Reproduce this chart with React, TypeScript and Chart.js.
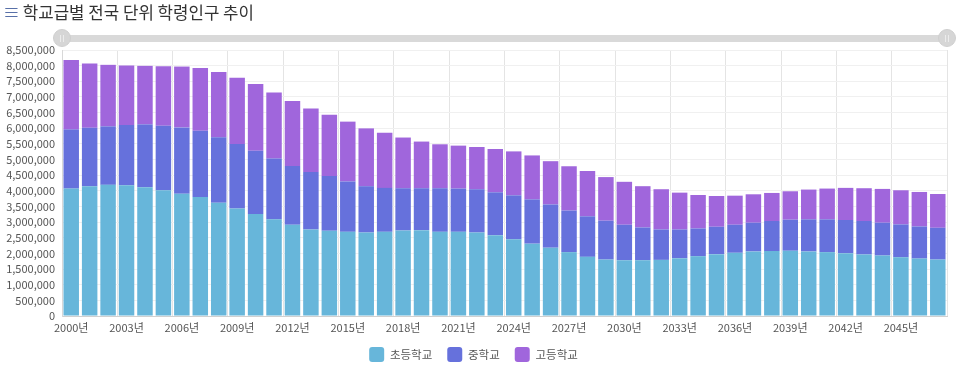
import React, { useEffect, useRef } from "react";
import { Chart, registerables } from "chart.js";

Chart.register(...registerables);

const years = [
  "2000년", "2001년", "2002년", "2003년", "2004년", "2005년", "2006년", "2007년",
  "2008년", "2009년", "2010년", "2011년", "2012년", "2013년", "2014년", "2015년",
  "2016년", "2017년", "2018년", "2019년", "2020년", "2021년", "2022년", "2023년",
  "2024년", "2025년", "2026년", "2027년", "2028년", "2029년", "2030년", "2031년",
  "2032년", "2033년", "2034년", "2035년", "2036년", "2037년", "2038년", "2039년",
  "2040년", "2041년", "2042년", "2043년", "2044년", "2045년", "2046년", "2047년",
];

const elementary = [
  4072000, 4148000, 4191000, 4180000, 4115000, 4018000, 3910000, 3802000,
  3619000, 3435000, 3262000, 3089000, 2916000, 2765000, 2722000, 2690000,
  2668000, 2690000, 2733000, 2744000, 2690000, 2690000, 2668000, 2582000,
  2452000, 2311000, 2182000, 2041000, 1890000, 1804000, 1782000, 1782000,
  1793000, 1847000, 1912000, 1977000, 2020000, 2063000, 2074000, 2085000,
  2063000, 2041000, 2009000, 1966000, 1933000, 1879000, 1836000, 1804000,
];

const middle = [
  1890000, 1869000, 1869000, 1923000, 2009000, 2063000, 2117000, 2117000,
  2095000, 2063000, 2020000, 1945000, 1880000, 1836000, 1750000, 1609000,
  1480000, 1404000, 1350000, 1339000, 1393000, 1382000, 1383000, 1371000,
  1404000, 1416000, 1382000, 1329000, 1296000, 1242000, 1134000, 1048000,
  972000, 918000, 886000, 875000, 896000, 918000, 961000, 993000,
  1026000, 1048000, 1059000, 1069000, 1048000, 1048000, 1026000, 1015000,
];

const high = [
  2215000, 2052000, 1966000, 1901000, 1869000, 1901000, 1944000, 2009000,
  2085000, 2117000, 2128000, 2106000, 2074000, 2031000, 1955000, 1912000,
  1847000, 1760000, 1620000, 1491000, 1404000, 1372000, 1350000, 1383000,
  1404000, 1404000, 1383000, 1415000, 1448000, 1393000, 1372000, 1318000,
  1286000, 1177000, 1069000, 983000, 929000, 908000, 897000, 908000,
  951000, 983000, 1026000, 1048000, 1080000, 1091000, 1102000, 1080000,
];

const seriesNames = ["초등학교", "중학교", "고등학교"];
const seriesColors = ["#67b6da", "#6671dc", "#a066dc"];
const yMax = 8500000;
const yStep = 500000;
const title = "학교급별 전국 단위 학령인구 추이";

const FONT = "'Noto Sans CJK KR', 'Noto Sans', sans-serif";

function Handle({ left }: { left: number }) {
  return (
    <div
      style={{
        position: "absolute",
        left: left - 9,
        top: 29,
        width: 18,
        height: 18,
        borderRadius: "50%",
        background: "#d6d6d6",
        boxSizing: "border-box",
        border: "1px solid #cfcfcf",
      }}
    >
      <div style={{ position: "absolute", left: 6, top: 5, width: 1, height: 7, background: "#ececec" }} />
      <div style={{ position: "absolute", left: 9, top: 5, width: 1, height: 7, background: "#ececec" }} />
    </div>
  );
}

const unclipXLabels = {
  id: "unclipXLabels",
  afterLayout(chart: any) {
    chart.scales.x.bottom += 12;
  },
};

export default function App() {
  const ref = useRef<HTMLCanvasElement>(null);

  useEffect(() => {
    const seriesData = [elementary, middle, high];
    const chart = new Chart(ref.current!, {
      type: "bar",
      data: {
        labels: years,
        datasets: seriesNames.map((name, i) => ({
          label: name,
          data: seriesData[i],
          backgroundColor: seriesColors[i],
          borderWidth: 0,
          categoryPercentage: 1,
          barPercentage: 0.84,
        })),
      },
      plugins: [unclipXLabels],
      options: {
        animation: false,
        responsive: false,
        maintainAspectRatio: false,
        layout: { padding: { top: 50, right: 13, bottom: 0, left: 0 } },
        plugins: {
          tooltip: { enabled: false },
          legend: {
            position: "bottom",
            labels: {
              boxWidth: 15,
              boxHeight: 15,
              useBorderRadius: true,
              borderRadius: 3,
              padding: 15,
              color: "#555",
              font: { family: FONT, size: 11.5 },
            },
          },
        },
        scales: {
          x: {
            stacked: true,
            afterFit: (s: any) => {
              s.height -= 7;
            },
            grid: {
              drawTicks: false,
              color: (c: any) =>
                c.index === undefined || c.index % 3 === 0 ? "#e4e4e4" : "rgba(0,0,0,0)",
            },
            border: { color: "#d0d0d0" },
            ticks: {
              autoSkip: false,
              maxRotation: 0,
              padding: 6,
              color: "#555",
              font: { family: FONT, size: 11, lineHeight: 1 },
              callback: (_v: any, i: number) => (i % 3 === 0 ? years[i] : ""),
            },
          },
          y: {
            stacked: true,
            min: 0,
            max: yMax,
            afterFit: (s: any) => {
              s.width = 62;
            },
            grid: { drawTicks: false, color: "#f0f0f0" },
            border: { color: "#d8d8d8" },
            ticks: {
              autoSkip: false,
              stepSize: yStep,
              padding: 7,
              color: "#555",
              font: { family: FONT, size: 11 },
              callback: (v: any) => Number(v).toLocaleString("en-US"),
            },
          },
        },
      },
    });
    return () => chart.destroy();
  }, []);

  return (
    <div
      style={{
        position: "fixed",
        left: 0,
        top: 0,
        width: 960,
        height: 372,
        background: "#fff",
        overflow: "hidden",
        fontFamily: FONT,
      }}
    >
      <canvas ref={ref} width={960} height={372} style={{ position: "absolute", left: 0, top: 0 }} />
      <div
        style={{
          position: "absolute",
          left: 3,
          top: 1,
          fontSize: 16.8,
          lineHeight: "22px",
          color: "#333",
          whiteSpace: "nowrap",
        }}
      >
        <span style={{ color: "#5870a8", marginRight: 3 }}>≡</span>
        {title}
      </div>
      <div
        style={{
          position: "absolute",
          left: 62,
          top: 35,
          width: 885,
          height: 7,
          background: "#d9d9d9",
          borderRadius: 3,
        }}
      />
      <Handle left={62} />
      <Handle left={947} />
    </div>
  );
}
